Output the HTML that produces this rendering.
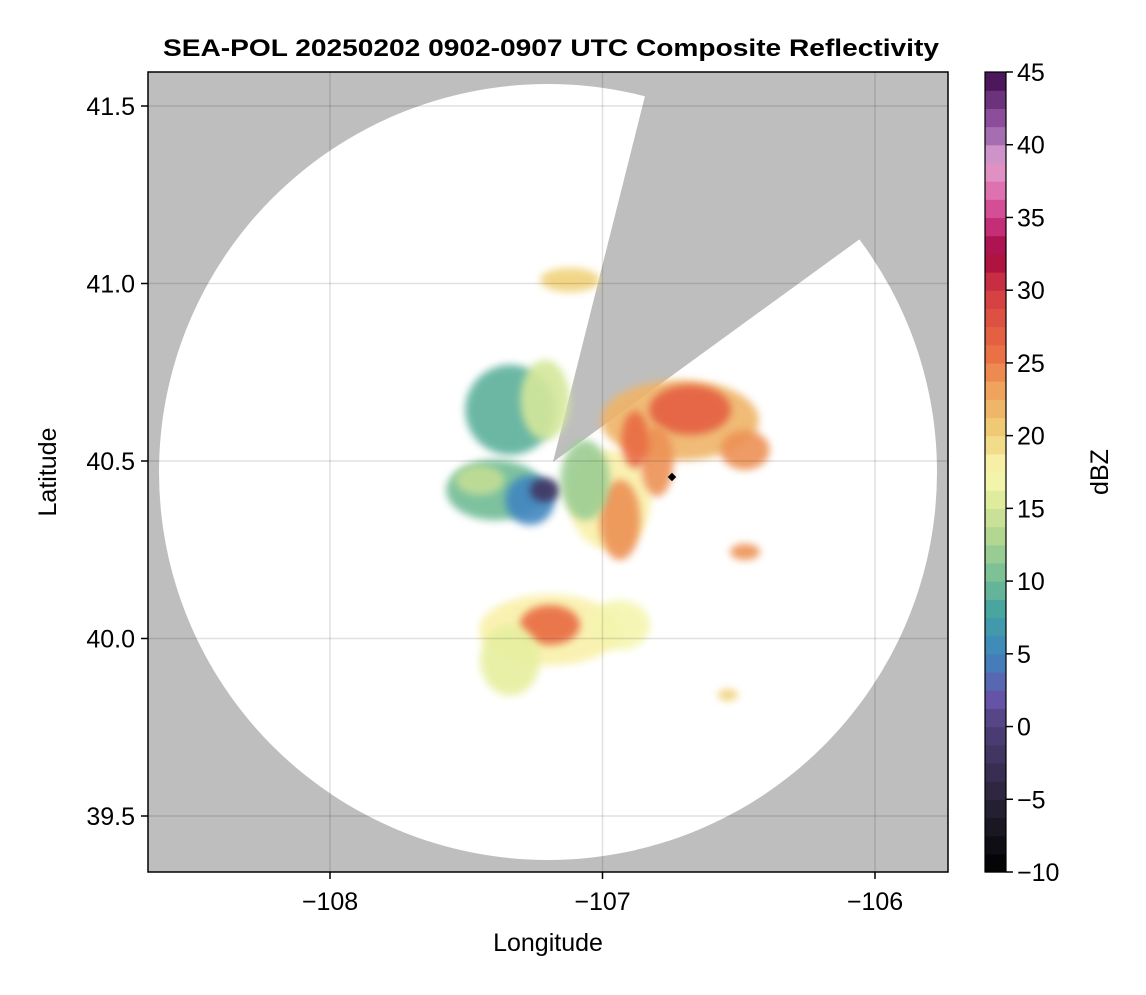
<!DOCTYPE html>
<html><head><meta charset="utf-8">
<style>
body{margin:0;background:#fff;}
svg text{font-family:"Liberation Sans",sans-serif;}
</style></head>
<body>
<svg id="chart" width="1146" height="990" viewBox="0 0 1146 990">
<defs>
<filter id="soft" x="-50%" y="-50%" width="200%" height="200%"><feGaussianBlur stdDeviation="4"/></filter>
<clipPath id="plotclip"><rect x="148" y="72" width="800" height="800"/></clipPath>
</defs>
<text x="551" y="56" text-anchor="middle" font-size="24" font-weight="bold" textLength="776" lengthAdjust="spacingAndGlyphs">SEA-POL 20250202 0902-0907 UTC Composite Reflectivity</text>
<g id="plot" clip-path="url(#plotclip)">
<rect x="148" y="72" width="800" height="800" fill="#bebebe"/>
<ellipse cx="548" cy="472" rx="389" ry="388" fill="#fff"/>
<polygon points="553,462 651,72 948,72 948,175" fill="#bebebe"/>
<g id="echoes"></g>
<g id="grid"></g>
<rect x="669" y="474" width="6" height="6" transform="rotate(45 672 477)" fill="#000"/>
</g>
<rect x="148" y="72" width="800" height="800" fill="none" stroke="#000" stroke-width="1.5"/>
<g id="axes"></g>
<text x="548" y="951" text-anchor="middle" font-size="25">Longitude</text>
<text x="56" y="472" text-anchor="middle" font-size="25" transform="rotate(-90 56 472)">Latitude</text>
<g id="cbar"></g>
<text x="1108" y="472" text-anchor="middle" font-size="25" transform="rotate(-90 1108 472)">dBZ</text>
</svg>
<script>
const xTicks=[-108,-107,-106];
const xTickLabels=["−108","−107","−106"];
const yTicks=[39.5,40.0,40.5,41.0,41.5];
const yTickLabels=["39.5","40.0","40.5","41.0","41.5"];
const cbTicks=[-10,-5,0,5,10,15,20,25,30,35,40,45];
const cbTickLabels=["−10","−5","0","5","10","15","20","25","30","35","40","45"];
const blobLon=[-107.394,-107.45,-107.266,-107.211,-107.339,-107.211,-107.119,-106.716,-106.679,-106.972,-106.936,-106.477,-107.064,-107.193,-107.193,-107.339,-106.936,-106.477,-106.54,-106.8,-106.88];
const blobLat=[40.418,40.446,40.39,40.418,40.644,40.672,41.01,40.615,40.644,40.39,40.334,40.531,40.446,40.024,40.038,39.939,40.038,40.244,39.841,40.5,40.56];
const blobRx=[0.18,0.09,0.09,0.055,0.165,0.09,0.11,0.29,0.15,0.15,0.075,0.09,0.09,0.26,0.11,0.11,0.11,0.055,0.037,0.06,0.05];
const blobRy=[0.085,0.042,0.07,0.034,0.127,0.113,0.034,0.113,0.07,0.14,0.113,0.056,0.113,0.1,0.056,0.1,0.07,0.023,0.017,0.1,0.08];
const blobDbz=[10,14,5,-2,9,15,20,22,27,18,24,24,12,18,26,16,17,24,20,24,26];

const X=lon=>330+(lon+108)*272.5;
const Y=lat=>461-(lat-40.5)*355;
const CB=v=>872-(v+10)*800/55;
const stops=[[-10,[0,0,0]],[-5,[42,36,56]],[0,[78,63,122]],[2,[102,84,168]],[5,[63,134,192]],[8,[69,165,160]],[10,[112,187,149]],[13,[176,214,144]],[16,[230,239,159]],[17.5,[251,248,181]],[20,[240,210,122]],[23,[239,165,94]],[26,[233,106,66]],[30,[211,59,68]],[32.5,[163,5,63]],[35,[207,60,138]],[37.5,[226,132,187]],[39,[224,160,208]],[40,[176,126,187]],[42,[138,74,154]],[45,[60,10,74]]];
function cmap(v){
  for(let i=0;i<stops.length-1;i++){const a=stops[i],b=stops[i+1];
    if(v<=b[0]){const t=Math.max(0,(v-a[0])/(b[0]-a[0]));return 'rgb('+a[1].map((c,j)=>Math.round(c+(b[1][j]-c)*t)).join(',')+')';}}
  return 'rgb(60,10,74)';
}
const NS='http://www.w3.org/2000/svg';
function mk(tag,attrs,parent){const e=document.createElementNS(NS,tag);for(const k in attrs)e.setAttribute(k,attrs[k]);parent.appendChild(e);return e;}
const echoes=document.getElementById('echoes');
for(let i=0;i<blobLon.length;i++){
  const e=mk('ellipse',{cx:X(blobLon[i]),cy:Y(blobLat[i]),rx:blobRx[i]*272.5,ry:blobRy[i]*355,fill:cmap(blobDbz[i]),opacity:0.9,filter:'url(#soft)'},echoes);
  
  
}
const grid=document.getElementById('grid'),axes=document.getElementById('axes');
xTicks.forEach((v,i)=>{
  const g=mk('line',{x1:X(v),x2:X(v),y1:72,y2:872,stroke:'rgba(0,0,0,0.12)','stroke-width':1.5},grid);
  
  
  const t=mk('line',{x1:X(v),x2:X(v),y1:872,y2:879,stroke:'#000','stroke-width':1.5},axes);
  
  
  const l=mk('text',{x:X(v),y:910,'text-anchor':'middle','font-size':25},axes);l.textContent=xTickLabels[i];
  
  
});
yTicks.forEach((v,i)=>{
  const g=mk('line',{x1:148,x2:948,y1:Y(v),y2:Y(v),stroke:'rgba(0,0,0,0.12)','stroke-width':1.5},grid);
  
  
  const t=mk('line',{x1:141,x2:148,y1:Y(v),y2:Y(v),stroke:'#000','stroke-width':1.5},axes);
  
  
  const l=mk('text',{x:135,y:Y(v)+9,'text-anchor':'end','font-size':25},axes);l.textContent=yTickLabels[i];
  
  
});
const cbar=document.getElementById('cbar');
const nb=44,step=55/nb;
for(let k=0;k<nb;k++){
  const v0=-10+k*step;
  const r=mk('rect',{x:985,y:CB(v0+step),width:21,height:800/nb+0.6,fill:cmap(v0+step/2)},cbar);
  
  
}
const fr=mk('rect',{x:985,y:72,width:21,height:800,fill:'none',stroke:'#000','stroke-width':1.2},cbar);


cbTicks.forEach((v,i)=>{
  const t=mk('line',{x1:1006,x2:1013,y1:CB(v),y2:CB(v),stroke:'#000','stroke-width':1.5},cbar);
  
  
  const l=mk('text',{x:1017,y:CB(v)+9,'font-size':25},cbar);l.textContent=cbTickLabels[i];
  
  
});
</script>
</body></html>
